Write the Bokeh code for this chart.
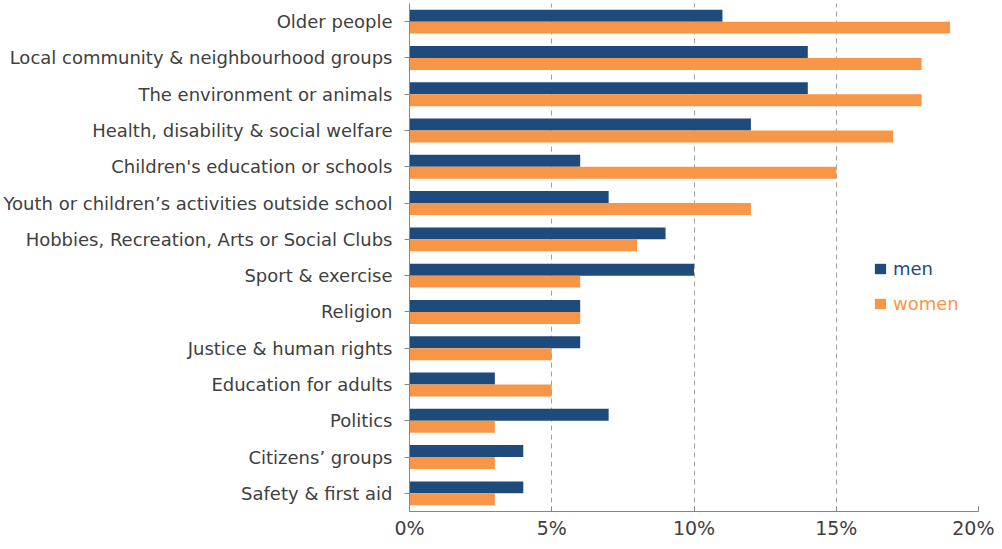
from bokeh.plotting import figure
from bokeh.models import Range1d, FactorRange, Legend, LegendItem, PrintfTickFormatter, FixedTicker, ColumnDataSource
from bokeh.transform import dodge
from bokeh.embed import file_html
from bokeh.resources import INLINE

categories = [
    "Older people",
    "Local community & neighbourhood groups",
    "The environment or animals",
    "Health, disability & social welfare",
    "Children's education or schools",
    "Youth or children\u2019s activities outside school",
    "Hobbies, Recreation, Arts or Social Clubs",
    "Sport & exercise",
    "Religion",
    "Justice & human rights",
    "Education for adults",
    "Politics",
    "Citizens\u2019 groups",
    "Safety & first aid",
]
men = [11, 14, 14, 12, 6, 7, 9, 10, 6, 6, 3, 7, 4, 4]
women = [19, 18, 18, 17, 15, 12, 8, 6, 6, 5, 5, 3, 3, 3]
x_ticks = [0, 5, 10, 15, 20]

MEN_C = "#1F4A7C"
WOMEN_C = "#F79646"
FONT = "DejaVu Sans"
TXT = "#404040"
AX = "#868686"

src = ColumnDataSource(dict(cat=categories, men=men, women=women))

p = figure(width=994, height=541, output_backend="svg", toolbar_location=None,
           y_range=FactorRange(factors=list(reversed(categories)), range_padding=0),
           x_range=Range1d(0, 20),
           min_border_left=409, min_border_right=16, min_border_top=3, min_border_bottom=20)
p.outline_line_color = None
p.background_fill_color = "white"
p.border_fill_color = "white"

rm = p.hbar(y=dodge("cat", 0.165, range=p.y_range), right="men", left=0, height=0.33,
            source=src, fill_color=MEN_C, line_color=None)
rw = p.hbar(y=dodge("cat", -0.165, range=p.y_range), right="women", left=0, height=0.33,
            source=src, fill_color=WOMEN_C, line_color=None)

p.ygrid.grid_line_color = None
p.xgrid.grid_line_color = "#A0A0A0"
p.xgrid.grid_line_dash = "5 4"
p.xgrid.grid_line_width = 1
p.xgrid.ticker = FixedTicker(ticks=x_ticks[1:])

p.xaxis.ticker = FixedTicker(ticks=x_ticks)
p.xaxis.formatter = PrintfTickFormatter(format="%d%%")
p.xaxis.axis_line_color = AX
p.xaxis.major_tick_line_color = AX
p.xaxis.major_tick_in = 5
p.xaxis.major_tick_out = 0
p.xaxis.minor_tick_line_color = None
p.xaxis.major_label_text_font = FONT
p.xaxis.major_label_text_font_size = "19px"
p.xaxis.major_label_text_color = TXT
p.xaxis.major_label_standoff = 5

p.yaxis.axis_line_color = AX
p.yaxis.major_tick_line_color = AX
p.yaxis.major_tick_in = 0
p.yaxis.major_tick_out = 5
p.yaxis.major_label_text_font = FONT
p.yaxis.major_label_text_font_size = "18px"
p.yaxis.major_label_text_color = TXT
p.yaxis.major_label_standoff = 12

def mk_legend(label, r, color, y):
    lg = Legend(items=[LegendItem(label=label, renderers=[r])], location=(464, y),
                orientation="vertical", padding=0, margin=0, spacing=0,
                glyph_width=14, glyph_height=13, label_height=20, label_standoff=6,
                label_text_font=FONT, label_text_font_size="18px", label_text_color=color,
                border_line_color=None, background_fill_alpha=0)
    p.add_layout(lg, "center")

mk_legend("men", rm, MEN_C, 232)
mk_legend("women", rw, WOMEN_C, 197)

open("out.html", "w").write(file_html(p, INLINE))
